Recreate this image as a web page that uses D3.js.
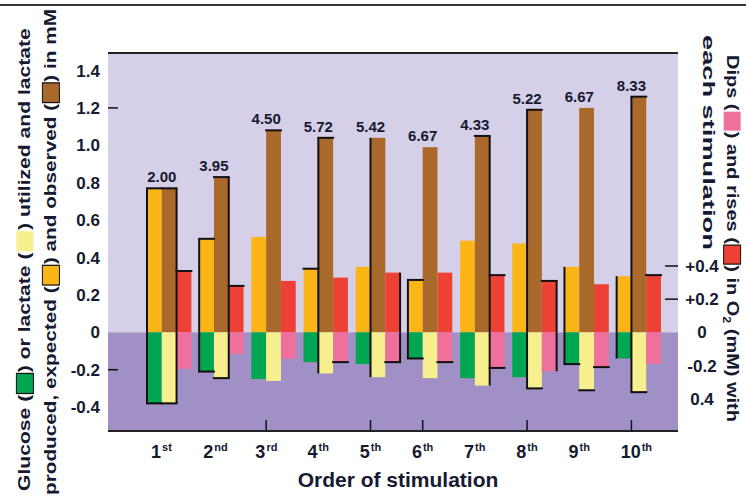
<!DOCTYPE html>
<html>
<head>
<meta charset="utf-8">
<script src="https://cdn.jsdelivr.net/npm/d3@7"></script>
<style>
  html, body { margin: 0; padding: 0; background: #fff; }
  svg text { font-family: "Liberation Sans", Arial, sans-serif; font-weight: bold; }
</style>
</head>
<body>
<div id="viz-wrapper"></div>
<script>
// ---- data ----
let categories = ["1", "2", "3", "4", "5", "6", "7", "8", "9", "10"];
let suffixes = ["st", "nd", "rd", "th", "th", "th", "th", "th", "th", "th"];

// left axis (mM)
let expected = [0.77, 0.50, 0.51, 0.34, 0.35, 0.28, 0.49, 0.475, 0.35, 0.30];
let observed = [0.77, 0.83, 1.08, 1.04, 1.04, 0.99, 1.05, 1.19, 1.20, 1.26];
let glucose  = [-0.38, -0.21, -0.25, -0.16, -0.17, -0.14, -0.245, -0.24, -0.17, -0.14];
let lactate  = [-0.38, -0.245, -0.26, -0.22, -0.24, -0.245, -0.285, -0.30, -0.31, -0.32];

// right axis (O2, mM)
let o2Rise = [0.37, 0.28, 0.31, 0.33, 0.36, 0.36, 0.345, 0.31, 0.29, 0.345];
let o2Dip  = [-0.22, -0.13, -0.16, -0.18, -0.18, -0.18, -0.215, -0.235, -0.21, -0.19];

let ratioLabels = ["2.00", "3.95", "4.50", "5.72", "5.42", "6.67", "4.33", "5.22", "6.67", "8.33"];

let leftTicks = [1.4, 1.2, 1.0, 0.8, 0.6, 0.4, 0.2, 0, -0.2, -0.4];
let leftTickLabels = ["1.4", "1.2", "1.0", "0.8", "0.6", "0.4", "0.2", "0", "-0.2", "-0.4"];
let leftTickMarks = [1.2, -0.2];
let rightTicks = [0.4, 0.2, 0, -0.2, -0.4];
let rightTickLabels = ["+0.4", "+0.2", "0", "-0.2", "0.4"];
let rightTickMarks = [0.4, 0.2];
let bottomTickMarks = ["3", "5", "6", "8", "10"];

// ---- styling ----
let width = 746, height = 496;
let textColor = "#161a30";
let colors = {
  orange: "#fcb516", brown: "#a9692a", red: "#ee4136",
  green: "#00a651", yellow: "#f8f08f", pink: "#ef709d",
  upper: "#d5cfe7", lower: "#a190c5"
};

let plot = { left: 108, right: 678, top: 53, bottom: 431 };

// series: which sub column, which axis
let series = [
  { values: expected, col: "a", axis: "left",  color: colors.orange },
  { values: observed, col: "b", axis: "left",  color: colors.brown },
  { values: o2Rise,   col: "c", axis: "right", color: colors.red },
  { values: glucose,  col: "a", axis: "left",  color: colors.green },
  { values: lactate,  col: "b", axis: "left",  color: colors.yellow },
  { values: o2Dip,    col: "c", axis: "right", color: colors.pink }
];

// black partial outlines in the original (e = outer end, l = left, r = right), per group, series order above
let outlineEdges = [
  ["el", "er", "e", "el", "er", ""],
  ["el", "er", "e", "el", "er", ""],
  ["", "e", "", "", "", ""],
  ["e", "el", "", "", "l", "e"],
  ["", "l", "r", "", "l", "re"],
  ["el", "", "", "el", "", "e"],
  ["", "er", "e", "", "r", "e"],
  ["", "el", "er", "", "el", "r"],
  ["l", "", "", "el", "e", "e"],
  ["l", "el", "e", "l", "el", ""]
];

// ---- scales ----
let xScale = d3.scaleBand().domain(categories).range([147, 661]).paddingInner(0.15).paddingOuter(0);
let subScale = d3.scaleBand().domain(["a", "b", "c"]).range([0, xScale.bandwidth()]);
let yLeft = d3.scaleLinear().domain([-0.4, 1.4]).range([407.1, 70.5]);
let yRight = d3.scaleLinear().domain([-0.4, 0.4]).range([398.6, 266]);

let svg = d3.select("#viz-wrapper").append("svg")
  .attr("width", width).attr("height", height);

svg.append("rect").attr("width", width).attr("height", height).attr("fill", "#fff");

// top rule across the page
svg.append("line").attr("x1", 0).attr("x2", width).attr("y1", 5).attr("y2", 5)
  .attr("stroke", "#333").attr("stroke-width", 2);

// backgrounds
svg.append("rect").attr("x", plot.left).attr("y", plot.top)
  .attr("width", plot.right - plot.left).attr("height", yLeft(0) - plot.top)
  .attr("fill", colors.upper);
svg.append("rect").attr("x", plot.left).attr("y", yLeft(0))
  .attr("width", plot.right - plot.left).attr("height", plot.bottom - yLeft(0))
  .attr("fill", colors.lower);

// bars
let barLayer = svg.append("g");
let outlineLayer = svg.append("g").attr("stroke", "#111").attr("stroke-width", 2).attr("fill", "none");

series.forEach(function(s, si) {
  let y = s.axis === "left" ? yLeft : yRight;
  s.values.forEach(function(v, i) {
    let x0 = xScale(categories[i]) + subScale(s.col);
    let x1 = x0 + subScale.bandwidth();
    let yz = y(0), yv = y(v);
    barLayer.append("rect")
      .attr("x", x0).attr("width", x1 - x0)
      .attr("y", Math.min(yz, yv)).attr("height", Math.abs(yv - yz))
      .attr("fill", s.color);

    let edges = outlineEdges[i][si];
    if (edges.indexOf("e") >= 0)
      outlineLayer.append("line").attr("x1", x0 - 1).attr("x2", x1 + 1).attr("y1", yv).attr("y2", yv);
    if (edges.indexOf("l") >= 0)
      outlineLayer.append("line").attr("x1", x0).attr("x2", x0).attr("y1", yz).attr("y2", yv);
    if (edges.indexOf("r") >= 0)
      outlineLayer.append("line").attr("x1", x1).attr("x2", x1).attr("y1", yz).attr("y2", yv);
  });
});

// ratio labels above observed bars
svg.append("g").selectAll("text")
  .data(ratioLabels)
  .enter().append("text")
  .attr("x", function(d, i) { return xScale(categories[i]) + subScale("b"); })
  .attr("y", function(d, i) { return yLeft(observed[i]) - 6; })
  .attr("text-anchor", "middle")
  .attr("font-size", 15)
  .attr("fill", textColor)
  .text(function(d) { return d; });

// plot border lines
svg.append("line").attr("x1", plot.left).attr("x2", plot.right).attr("y1", plot.top).attr("y2", plot.top)
  .attr("stroke", "#222").attr("stroke-width", 2);
svg.append("line").attr("x1", plot.left).attr("x2", plot.right).attr("y1", plot.bottom).attr("y2", plot.bottom)
  .attr("stroke", "#222").attr("stroke-width", 2);

// left axis labels + marks
svg.append("g").selectAll("text")
  .data(leftTicks)
  .enter().append("text")
  .attr("x", 100)
  .attr("y", function(d) { return yLeft(d); })
  .attr("dy", "0.36em")
  .attr("text-anchor", "end")
  .attr("font-size", 17)
  .attr("fill", textColor)
  .text(function(d, i) { return leftTickLabels[i]; });
svg.append("g").selectAll("line")
  .data(leftTickMarks)
  .enter().append("line")
  .attr("x1", plot.left).attr("x2", plot.left + 10)
  .attr("y1", function(d) { return yLeft(d); }).attr("y2", function(d) { return yLeft(d); })
  .attr("stroke", "#111").attr("stroke-width", 1.5);

// right axis labels + marks
svg.append("g").selectAll("text")
  .data(rightTicks)
  .enter().append("text")
  .attr("x", 702)
  .attr("y", function(d) { return yRight(d); })
  .attr("dy", "0.36em")
  .attr("text-anchor", "middle")
  .attr("font-size", 17)
  .attr("fill", textColor)
  .text(function(d, i) { return rightTickLabels[i]; });
svg.append("g").selectAll("line")
  .data(rightTickMarks)
  .enter().append("line")
  .attr("x1", plot.right - 13).attr("x2", plot.right)
  .attr("y1", function(d) { return yRight(d); }).attr("y2", function(d) { return yRight(d); })
  .attr("stroke", "#111").attr("stroke-width", 1.5);

// bottom tick marks
svg.append("g").selectAll("line")
  .data(bottomTickMarks)
  .enter().append("line")
  .attr("x1", function(d) { return xScale(d) + subScale("b"); })
  .attr("x2", function(d) { return xScale(d) + subScale("b"); })
  .attr("y1", plot.bottom - 11).attr("y2", plot.bottom)
  .attr("stroke", "#111").attr("stroke-width", 1.5);

// x category labels with ordinal superscripts
let xLabels = svg.append("g").selectAll("text")
  .data(categories)
  .enter().append("text")
  .attr("x", function(d) { return xScale(d) + 4; })
  .attr("y", 458)
  .attr("font-size", 18)
  .attr("fill", textColor);
xLabels.append("tspan").text(function(d) { return d; });
xLabels.append("tspan")
  .attr("font-size", 11)
  .attr("dy", -7)
  .attr("dx", 1)
  .text(function(d, i) { return suffixes[i]; });

svg.append("text")
  .attr("x", 398).attr("y", 487)
  .attr("text-anchor", "middle")
  .attr("font-size", 21)
  .attr("fill", textColor)
  .text("Order of stimulation");

// rotated titles with inline legend boxes
function drawTitle(parts, fontSize, x, y, angle, targetLength) {
  let g = svg.append("g");
  let inner = g.append("g");
  let cursor = 0;
  parts.forEach(function(p) {
    if (p.box) {
      let bw = fontSize * 0.95;
      inner.append("rect")
        .attr("x", cursor + 1).attr("y", -fontSize * 0.8)
        .attr("width", bw).attr("height", fontSize * 1.0)
        .attr("fill", p.box)
        .attr("stroke", p.stroke ? "#111" : "none")
        .attr("stroke-width", 1);
      cursor += bw + 2;
    } else {
      let t = inner.append("text")
        .attr("x", cursor)
        .attr("y", p.sub ? fontSize * 0.25 : 0)
        .attr("font-size", p.sub ? fontSize * 0.62 : fontSize)
        .attr("fill", textColor)
        .attr("xml:space", "preserve")
        .style("white-space", "pre")
        .text(p.t);
      cursor += t.node().getComputedTextLength();
    }
  });
  let k = targetLength / cursor;
  inner.attr("transform", "scale(" + k + ",1)");
  g.attr("transform", "translate(" + x + "," + y + ") rotate(" + angle + ")");
}

drawTitle([
  { t: "Glucose (" }, { box: colors.green, stroke: true }, { t: ") or lactate (" },
  { box: colors.yellow }, { t: ") utilized and lactate" }
], 17, 30, 491, -90, 463);

drawTitle([
  { t: "produced, expected (" }, { box: colors.orange, stroke: true }, { t: ") and observed (" },
  { box: colors.brown, stroke: true }, { t: ") in mM" }
], 17, 56, 495, -90, 486);

drawTitle([
  { t: "Dips (" }, { box: colors.pink }, { t: ") and rises (" },
  { box: colors.red, stroke: true }, { t: ") in O" }, { t: "2", sub: true }, { t: " (mM) with" }
], 17, 727, 55, 90, 367);

drawTitle([
  { t: "each stimulation" }
], 17, 703, 35, 90, 215);
</script>
</body>
</html>
